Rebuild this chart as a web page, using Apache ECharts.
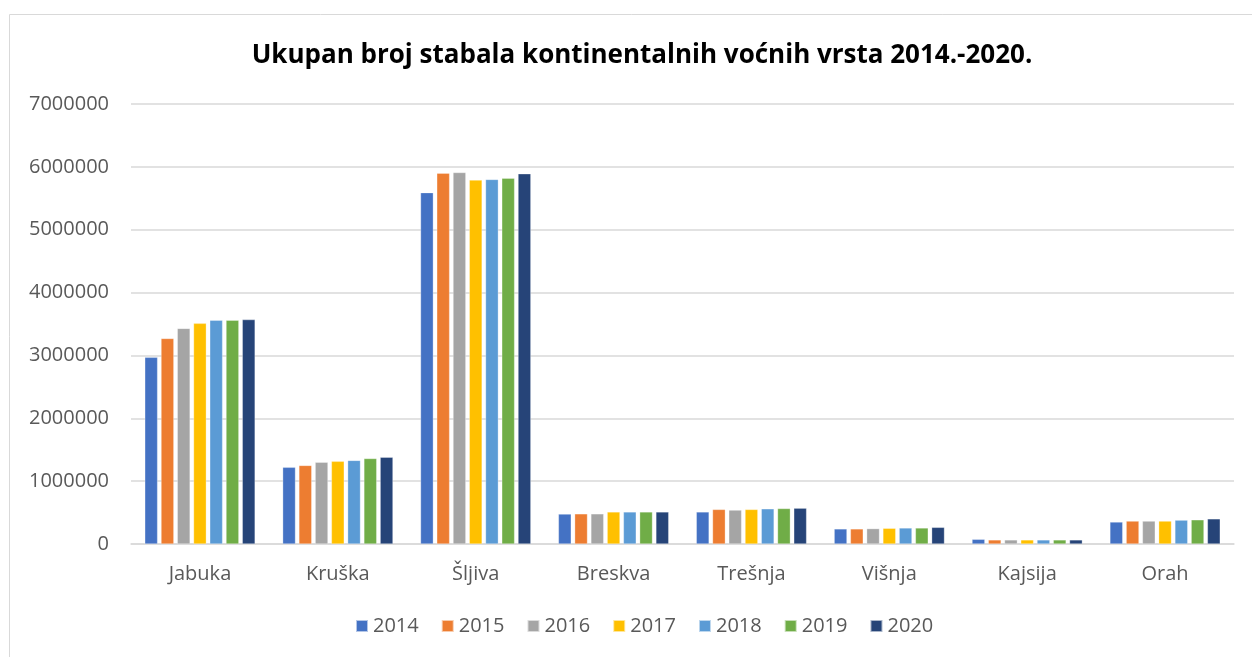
<!DOCTYPE html>
<html><head><meta charset="utf-8">
<script src="https://cdn.jsdelivr.net/npm/echarts@6/dist/echarts.min.js"></script>
<style>html,body{margin:0;padding:0;background:#fff}#c{width:1252px;height:657px}</style>
</head><body><div id="c"></div>
<script>
const categories = ['Jabuka','Kruška','Šljiva','Breskva','Trešnja','Višnja','Kajsija','Orah'];
const years = ['2014','2015','2016','2017','2018','2019','2020'];
const v2014 = [2970000,1220000,5590000,477000,510000,240000,75000,350000];
const v2015 = [3270000,1250000,5900000,480000,550000,240000,65000,365000];
const v2016 = [3430000,1300000,5910000,480000,540000,245000,65000,365000];
const v2017 = [3510000,1315000,5790000,510000,550000,250000,65000,365000];
const v2018 = [3560000,1330000,5800000,510000,560000,255000,65000,380000];
const v2019 = [3560000,1360000,5820000,510000,565000,255000,65000,385000];
const v2020 = [3570000,1380000,5890000,510000,570000,265000,65000,400000];
const yTicks = [0,1000000,2000000,3000000,4000000,5000000,6000000,7000000];
const colors = ['#4472C4','#ED7D31','#A5A5A5','#FFC000','#5B9BD5','#70AD47','#264478'];
const seriesValues = [v2014,v2015,v2016,v2017,v2018,v2019,v2020];

const chart = echarts.init(document.getElementById('c'));
chart.setOption({
  animation:false,
  color: colors,
  textStyle:{fontFamily:'Open Sans'},
  title:{
    text:'Ukupan broj stabala kontinentalnih voćnih vrsta 2014.-2020.',
    left:637, top:38, textAlign:'center',
    textStyle:{fontFamily:'Open Sans',fontWeight:'bold',fontSize:26,color:'#000'}
  },
  graphic:[{type:'rect',shape:{x:9.5,y:14.5,width:1260,height:660},style:{fill:'none',stroke:'#d9d9d9',lineWidth:1},silent:true,z:-1}],
  legend:{
    data: years, bottom:16, left:350,
    itemWidth:12, itemHeight:12, itemGap:22, icon:'rect',
    textStyle:{fontSize:20,color:'#595959',fontFamily:'Open Sans'}
  },
  grid:{left:131,right:18,top:104,bottom:113,containLabel:false},
  xAxis:{
    type:'category', data:categories,
    axisLine:{lineStyle:{color:'#d9d9d9',width:1.5}},
    axisTick:{show:false},
    axisLabel:{fontSize:20,color:'#595959',margin:20}
  },
  yAxis:{
    type:'value', min:yTicks[0], max:yTicks[yTicks.length-1], interval:1000000,
    axisLine:{show:false}, axisTick:{show:false},
    splitLine:{lineStyle:{color:'#d9d9d9',width:1.5}},
    axisLabel:{fontSize:20,color:'#595959',margin:22,formatter:v=>String(v)}
  },
  series: years.map((y,i)=>({
    name:y, type:'bar', data:seriesValues[i],
    barGap:'27%', barCategoryGap:'20%',
    itemStyle:{color:colors[i],borderColor:'rgba(255,255,255,0.6)',borderWidth:0.5}
  }))
});
</script></body></html>
